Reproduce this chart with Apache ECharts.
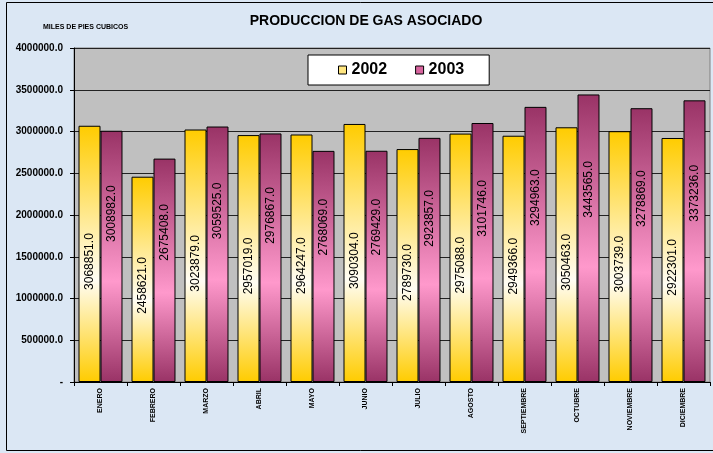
<!DOCTYPE html>
<html lang="es">
<head>
    <meta charset="UTF-8">
    <title>Produccion de Gas Asociado</title>
    <script type="text/javascript" src="https://cdn.jsdelivr.net/npm/echarts@6/dist/echarts.min.js"></script>
    <style>
        body {
            margin: 0;
            padding: 0;
        }
        #chart-container {
            width: 713px;
            height: 453px;
            background: #dbe7f4;
        }
    </style>
</head>
<body>
    <div id="chart-container"></div>

    <script>
        const meses = ['ENERO', 'FEBRERO', 'MARZO', 'ABRIL', 'MAYO', 'JUNIO', 'JULIO', 'AGOSTO', 'SEPTIEMBRE', 'OCTUBRE', 'NOVIEMBRE', 'DICIEMBRE'];
        const prod2002 = [3068851, 2458621, 3023879, 2957019, 2964247, 3090304, 2789730, 2975088, 2949366, 3050463, 3003739, 2922301];
        const prod2003 = [3008982, 2675408, 3059525, 2976867, 2768069, 2769429, 2923857, 3101746, 3294963, 3443565, 3278869, 3373236];

        const fontName = 'Liberation Sans, Arial, sans-serif';

        function barGradient(edge, middle) {
            return new echarts.graphic.LinearGradient(0, 0, 0, 1, [
                { offset: 0, color: edge },
                { offset: 0.6, color: middle },
                { offset: 1, color: edge }
            ]);
        }

        var myChart = echarts.init(document.getElementById('chart-container'));

        var option = {
            backgroundColor: '#dbe7f4',
            textStyle: { fontFamily: fontName },
            title: [
                {
                    text: 'PRODUCCION DE GAS ASOCIADO',
                    left: 361,
                    top: 9,
                    textAlign: 'center',
                    textStyle: { fontSize: 14, fontWeight: 'bold', color: '#000', fontFamily: fontName }
                },
                {
                    text: 'MILES DE PIES CUBICOS',
                    left: 38,
                    top: 19,
                    textStyle: { fontSize: 7, fontWeight: 'bold', color: '#000', fontFamily: fontName }
                }
            ],
            graphic: [
                {
                    type: 'rect',
                    shape: { x: 6.5, y: 2.5, width: 720, height: 448 },
                    style: { fill: 'none', stroke: '#000', lineWidth: 1 },
                    silent: true
                }
            ],
            legend: {
                left: 308,
                top: 55,
                padding: [7, 25, 7, 30],
                itemWidth: 8,
                itemHeight: 8,
                itemGap: 28,
                backgroundColor: '#fff',
                borderColor: '#000',
                borderWidth: 1,
                textStyle: { fontSize: 16, fontWeight: 'bold', color: '#000', fontFamily: fontName },
                data: [
                    { name: '2002', icon: 'rect', itemStyle: { color: '#ffe680', borderColor: '#000', borderWidth: 1 } },
                    { name: '2003', icon: 'rect', itemStyle: { color: '#d8649e', borderColor: '#000', borderWidth: 1 } }
                ]
            },
            grid: {
                left: 74,
                right: 3,
                top: 48,
                bottom: 71,
                show: true,
                backgroundColor: '#c0c0c0',
                borderColor: '#808080',
                borderWidth: 1
            },
            xAxis: {
                type: 'category',
                data: meses,
                axisLine: { lineStyle: { color: '#000', width: 1 } },
                axisTick: { show: true, alignWithLabel: false, length: 4, lineStyle: { color: '#000' } },
                axisLabel: {
                    rotate: 90,
                    fontSize: 7,
                    fontWeight: 'bold',
                    color: '#000',
                    margin: 6,
                    interval: 0
                }
            },
            yAxis: {
                type: 'value',
                min: 0,
                max: 4000000,
                interval: 500000,
                axisLine: { show: true, lineStyle: { color: '#000', width: 1 } },
                axisTick: { show: true, length: 4, lineStyle: { color: '#000' } },
                axisLabel: {
                    fontSize: 10,
                    fontWeight: 'bold',
                    color: '#000',
                    margin: 11,
                    formatter: function (v) {
                        return v === 0 ? '-' : v.toFixed(1);
                    }
                },
                splitLine: { show: true, lineStyle: { color: '#222', width: 1 } }
            },
            series: [
                {
                    name: '2002',
                    type: 'bar',
                    data: prod2002,
                    barGap: '0%',
                    barCategoryGap: '17%',
                    itemStyle: {
                        color: barGradient('#ffcc00', '#fffdf4'),
                        borderColor: '#000',
                        borderWidth: 1
                    },
                    label: {
                        show: true,
                        position: ['50%', '53%'],
                        rotate: 90,
                        align: 'center',
                        verticalAlign: 'middle',
                        fontSize: 12,
                        color: '#000',
                        formatter: p => p.value.toFixed(1)
                    }
                },
                {
                    name: '2003',
                    type: 'bar',
                    data: prod2003,
                    itemStyle: {
                        color: barGradient('#993366', '#ff99cc'),
                        borderColor: '#000',
                        borderWidth: 1
                    },
                    label: {
                        show: true,
                        position: ['50%', '33%'],
                        rotate: 90,
                        align: 'center',
                        verticalAlign: 'middle',
                        fontSize: 12,
                        color: '#000',
                        formatter: p => p.value.toFixed(1)
                    }
                }
            ]
        };

        myChart.setOption(option);
    </script>
</body>
</html>
